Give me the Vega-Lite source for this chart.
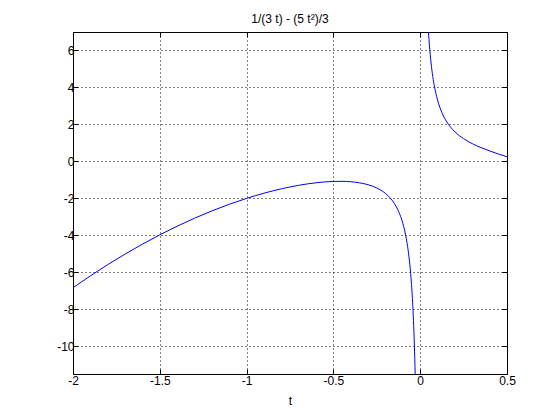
{
  "$schema": "https://vega.github.io/schema/vega-lite/v6.json",
  "width": 434,
  "height": 342,
  "autosize": {"type": "none"},
  "padding": {"left": 73, "top": 32, "right": 53, "bottom": 46},
  "background": "white",
  "config": {
    "font": "Liberation Sans",
    "view": {"stroke": "black", "strokeWidth": 1},
    "axis": {
      "domainColor": "black",
      "tickColor": "black",
      "labelColor": "black",
      "labelFontSize": 12,
      "titleColor": "black",
      "titleFontSize": 12,
      "titleFontWeight": "normal",
      "tickSize": -5,
      "labelFlush": false,
      "labelOverlap": false
    }
  },
  "title": {"text": "1/(3 t) - (5 t²)/3", "fontSize": 12, "fontWeight": "normal", "color": "black", "offset": 6, "font": "Liberation Sans"},
  "data": {"values": [
    {"t": -2.0, "y": -6.8333, "b": "L"},
    {"t": -1.9, "y": -6.1921, "b": "L"},
    {"t": -1.8, "y": -5.5852, "b": "L"},
    {"t": -1.7, "y": -5.0127, "b": "L"},
    {"t": -1.6, "y": -4.475, "b": "L"},
    {"t": -1.5, "y": -3.9722, "b": "L"},
    {"t": -1.4, "y": -3.5048, "b": "L"},
    {"t": -1.3, "y": -3.0731, "b": "L"},
    {"t": -1.2, "y": -2.6778, "b": "L"},
    {"t": -1.1, "y": -2.3197, "b": "L"},
    {"t": -1.0, "y": -2.0, "b": "L"},
    {"t": -0.9, "y": -1.7204, "b": "L"},
    {"t": -0.8, "y": -1.4833, "b": "L"},
    {"t": -0.7, "y": -1.2929, "b": "L"},
    {"t": -0.6, "y": -1.1556, "b": "L"},
    {"t": -0.55, "y": -1.1102, "b": "L"},
    {"t": -0.5, "y": -1.0833, "b": "L"},
    {"t": -0.45, "y": -1.0782, "b": "L"},
    {"t": -0.4, "y": -1.1, "b": "L"},
    {"t": -0.35, "y": -1.1565, "b": "L"},
    {"t": -0.3, "y": -1.2611, "b": "L"},
    {"t": -0.25, "y": -1.4375, "b": "L"},
    {"t": -0.2, "y": -1.7333, "b": "L"},
    {"t": -0.175, "y": -1.9558, "b": "L"},
    {"t": -0.15, "y": -2.2597, "b": "L"},
    {"t": -0.125, "y": -2.6927, "b": "L"},
    {"t": -0.1, "y": -3.35, "b": "L"},
    {"t": -0.09, "y": -3.7172, "b": "L"},
    {"t": -0.08, "y": -4.1773, "b": "L"},
    {"t": -0.07, "y": -4.7701, "b": "L"},
    {"t": -0.06, "y": -5.5616, "b": "L"},
    {"t": -0.05, "y": -6.6708, "b": "L"},
    {"t": -0.045, "y": -7.4108, "b": "L"},
    {"t": -0.04, "y": -8.336, "b": "L"},
    {"t": -0.035, "y": -9.5259, "b": "L"},
    {"t": -0.03, "y": -11.1126, "b": "L"},
    {"t": -0.028, "y": -11.906, "b": "L"},
    {"t": 0.026, "y": 12.819, "b": "R"},
    {"t": 0.03, "y": 11.1096, "b": "R"},
    {"t": 0.035, "y": 9.5218, "b": "R"},
    {"t": 0.04, "y": 8.3307, "b": "R"},
    {"t": 0.045, "y": 7.404, "b": "R"},
    {"t": 0.05, "y": 6.6625, "b": "R"},
    {"t": 0.06, "y": 5.5496, "b": "R"},
    {"t": 0.07, "y": 4.7537, "b": "R"},
    {"t": 0.08, "y": 4.156, "b": "R"},
    {"t": 0.09, "y": 3.6902, "b": "R"},
    {"t": 0.1, "y": 3.3167, "b": "R"},
    {"t": 0.125, "y": 2.6406, "b": "R"},
    {"t": 0.15, "y": 2.1847, "b": "R"},
    {"t": 0.175, "y": 1.8537, "b": "R"},
    {"t": 0.2, "y": 1.6, "b": "R"},
    {"t": 0.25, "y": 1.2292, "b": "R"},
    {"t": 0.3, "y": 0.9611, "b": "R"},
    {"t": 0.35, "y": 0.7482, "b": "R"},
    {"t": 0.4, "y": 0.5667, "b": "R"},
    {"t": 0.45, "y": 0.4032, "b": "R"},
    {"t": 0.5, "y": 0.25, "b": "R"}
  ]},
  "resolve": {"axis": {"x": "independent", "y": "independent"}},
  "layer": [
    {
      "mark": {"type": "line", "strokeOpacity": 0, "clip": true},
      "encoding": {
        "x": {"field": "t", "type": "quantitative", "scale": {"domain": [-2, 0.5], "nice": false, "zero": false},
          "axis": {"orient": "top", "values": [-2, -1.5, -1, -0.5, 0, 0.5], "labels": false, "title": null, "grid": false, "domain": false}},
        "y": {"field": "y", "type": "quantitative", "scale": {"domain": [-11.5, 7], "nice": false, "zero": false},
          "axis": {"orient": "right", "values": [-10, -8, -6, -4, -2, 0, 2, 4, 6], "labels": false, "title": null, "grid": false, "domain": false}},
        "detail": {"field": "b"}
      }
    },
    {
      "mark": {"type": "line", "color": "#0000ff", "strokeWidth": 1, "clip": true, "interpolate": "monotone"},
      "encoding": {
        "x": {"field": "t", "type": "quantitative", "scale": {"domain": [-2, 0.5], "nice": false, "zero": false},
          "axis": {"orient": "bottom", "values": [-2, -1.5, -1, -0.5, 0, 0.5], "labelExpr": "'' + datum.value", "labelPadding": 6, "title": "t", "titlePadding": 9,
            "grid": true, "gridColor": "black", "gridDash": [1, 3], "gridOpacity": 1, "domain": false}},
        "y": {"field": "y", "type": "quantitative", "scale": {"domain": [-11.5, 7], "nice": false, "zero": false},
          "axis": {"orient": "left", "values": [-10, -8, -6, -4, -2, 0, 2, 4, 6], "labelExpr": "'' + datum.value", "labelPadding": 4, "title": null,
            "grid": true, "gridColor": "black", "gridDash": [1, 3], "gridOpacity": 1, "domain": false}},
        "detail": {"field": "b"}
      }
    }
  ]
}
